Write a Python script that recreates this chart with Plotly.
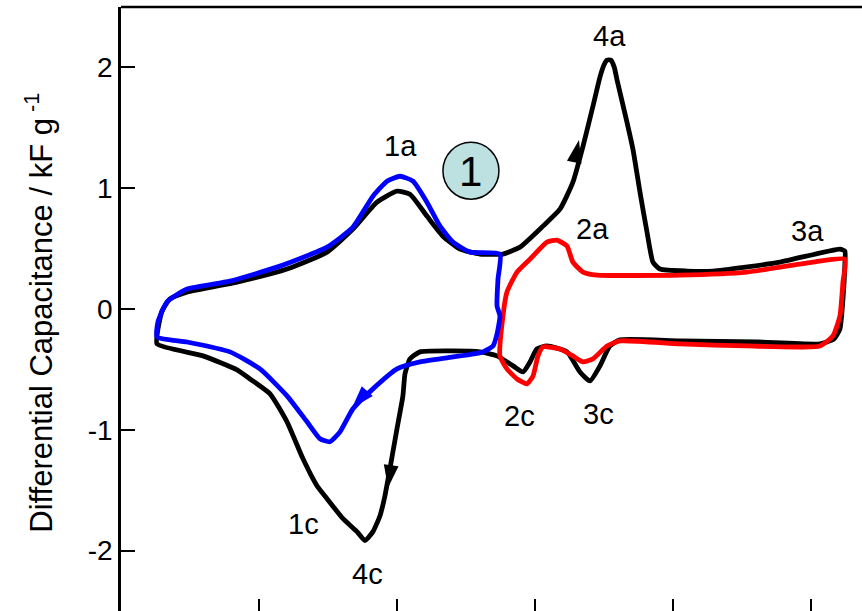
import plotly.graph_objects as go

# ---- data (potential in arbitrary units, capacitance in kF/g) ----
black_x = [0.261, 0.268, 0.297, 0.355, 0.478, 0.841, 1.203, 1.493, 1.681, 1.855, 2.000, 2.094,
           2.217, 2.333, 2.457, 2.601, 2.768, 2.891, 3.058, 3.181, 3.275, 3.348, 3.420, 3.471,
           3.500, 3.522, 3.550, 3.575, 3.594, 3.667, 3.710, 3.761, 3.812, 3.855, 3.906, 4.101, 4.290, 4.775,
           5.210, 5.246, 5.246, 5.232, 5.210, 5.167, 5.065, 4.609, 4.051, 3.616, 3.543, 3.471,
           3.399, 3.326, 3.232, 3.087, 3.014, 2.964, 2.913, 2.841, 2.725, 2.601, 2.406, 2.167,
           2.094, 2.058, 2.043, 2.000, 1.949, 1.913, 1.877, 1.826, 1.768, 1.710, 1.609, 1.493,
           1.420, 1.319, 1.203, 1.080, 0.935, 0.841, 0.594, 0.261]
black_y = [-0.289, -0.165, -0.017, 0.083, 0.140, 0.223, 0.331, 0.471, 0.661, 0.884, 0.975, 0.950,
           0.769, 0.603, 0.496, 0.455, 0.455, 0.512, 0.686, 0.826, 1.050, 1.347, 1.678, 1.920,
           2.020, 2.060, 2.060, 2.000, 1.900, 1.545, 1.322, 0.967, 0.636, 0.388, 0.331, 0.314, 0.314, 0.388,
           0.496, 0.479, 0.372, 0.083, -0.165, -0.248, -0.289, -0.273, -0.264, -0.256, -0.306, -0.471,
           -0.595, -0.521, -0.355, -0.306, -0.331, -0.438, -0.521, -0.471, -0.388, -0.355, -0.347, -0.355,
           -0.413, -0.537, -0.719, -0.992, -1.322, -1.545, -1.711, -1.843, -1.917, -1.843, -1.736, -1.570,
           -1.463, -1.240, -0.934, -0.702, -0.579, -0.504, -0.388, -0.289]

blue_x = [2.746, 2.732, 2.725, 2.746, 2.725, 2.696, 2.623, 2.406, 2.167, 2.000, 1.826, 1.681,
          1.587, 1.514, 1.442, 1.348, 1.203, 1.007, 0.790, 0.478, 0.261, 0.268, 0.333, 0.478,
          0.790, 1.152, 1.493, 1.681, 1.826, 1.928, 2.022, 2.116, 2.217, 2.312, 2.406, 2.529, 2.746]
blue_y = [0.455, 0.248, 0.025, -0.058, -0.207, -0.306, -0.355, -0.397, -0.438, -0.496, -0.661, -0.826,
          -1.017, -1.099, -1.074, -0.934, -0.719, -0.496, -0.355, -0.273, -0.231, -0.107, 0.058, 0.165,
          0.231, 0.355, 0.512, 0.678, 0.934, 1.058, 1.099, 1.058, 0.884, 0.686, 0.554, 0.471, 0.455]

red_x = [2.746, 2.768, 2.797, 2.870, 2.964, 3.087, 3.159, 3.232, 3.275, 3.348, 3.449, 4.051,
         4.536, 5.014, 5.246, 5.232, 5.210, 5.159, 5.065, 4.536, 4.051, 3.616, 3.522, 3.420,
         3.348, 3.275, 3.181, 3.058, 3.022, 2.986, 2.942, 2.870, 2.797, 2.746]
red_y = [-0.388, -0.058, 0.140, 0.306, 0.413, 0.554, 0.570, 0.521, 0.388, 0.306, 0.281, 0.281,
         0.306, 0.388, 0.413, 0.223, -0.058, -0.223, -0.306, -0.306, -0.289, -0.264, -0.306, -0.413,
         -0.438, -0.388, -0.331, -0.314, -0.388, -0.554, -0.620, -0.579, -0.496, -0.388]

peak_labels = ["1a", "2a", "3a", "4a", "1c", "2c", "3c", "4c"]
peak_label_x = [2.029, 3.420, 4.978, 3.543, 1.319, 2.891, 3.457, 1.783]
peak_label_y = [1.347, 0.661, 0.645, 2.256, -1.777, -0.884, -0.868, -2.190]

# direction arrows: tip point, heading (degrees clockwise from up), colour
arrow_tip_x = [1.935, 3.319, 1.674]
arrow_tip_y = [-1.480, 1.400, -0.820]
arrow_heading = [188, 12, 222]
arrow_colors = ["black", "black", "#0000ff"]

y_ticks = [-2, -1, 0, 1, 2]
x_ticks = [1, 2, 3, 4, 5]

FONT = "Liberation Sans, Arial, sans-serif"

fig = go.Figure()
fig.add_trace(go.Scatter(x=black_x, y=black_y, mode="lines",
                         line=dict(color="black", width=4.8, shape="spline", smoothing=0.5),
                         hoverinfo="skip"))
fig.add_trace(go.Scatter(x=red_x, y=red_y, mode="lines",
                         line=dict(color="#ff0000", width=4.8, shape="spline", smoothing=0.5),
                         hoverinfo="skip"))
fig.add_trace(go.Scatter(x=blue_x, y=blue_y, mode="lines",
                         line=dict(color="#0000ff", width=4.8, shape="spline", smoothing=0.5),
                         hoverinfo="skip"))

fig.add_trace(go.Scatter(x=arrow_tip_x, y=arrow_tip_y, mode="markers",
                         marker=dict(symbol="arrow", size=24, color=arrow_colors,
                                     angle=arrow_heading, line=dict(width=0)),
                         hoverinfo="skip"))

for t, lx, ly in zip(peak_labels, peak_label_x, peak_label_y):
    fig.add_annotation(x=lx, y=ly, text=t, showarrow=False,
                       font=dict(family=FONT, size=29, color="black"))

# circled "1"
fig.add_shape(type="circle", xref="x", yref="y", x0=2.333, x1=2.739, y0=0.909, y1=1.380,
              fillcolor="#bde0e1", line=dict(color="black", width=1.5))
fig.add_annotation(x=2.536, y=1.140, text="1", showarrow=False,
                   font=dict(family=FONT, size=42, color="black"))

# y-axis title
fig.add_annotation(xref="paper", yref="paper", x=-0.1110, y=0.5, yshift=-4,
                   text="Differential Capacitance / kF g<sup> -1</sup>", textangle=-90,
                   showarrow=False, xanchor="center", yanchor="middle",
                   font=dict(family=FONT, size=31, color="black"))

# top frame line
fig.add_shape(type="line", xref="paper", yref="paper", x0=0, x1=1, y0=1, y1=1,
              line=dict(color="black", width=2.5))

fig.update_layout(
    width=862, height=611,
    margin=dict(l=121, r=0, t=7, b=0, autoexpand=False),
    plot_bgcolor="white", paper_bgcolor="white",
    showlegend=False,
    font=dict(family=FONT, color="black"),
    xaxis=dict(range=[0, 5.37], showgrid=False, zeroline=False, showline=False,
               tickmode="array", tickvals=x_ticks, showticklabels=False, automargin=False,
               ticks="inside", ticklen=12, tickwidth=1.5, tickcolor="black"),
    yaxis=dict(range=[-2.5, 2.5], showgrid=False, zeroline=False, showline=True,
               linecolor="black", linewidth=2.5, automargin=False,
               tickmode="array", tickvals=y_ticks, ticktext=[str(v) for v in y_ticks],
               ticks="inside", ticklen=14, tickwidth=1.5, tickcolor="black",
               tickfont=dict(family=FONT, size=28, color="black")),
)

fig.write_html("out.html", config={"displayModeBar": False},
               post_script="document.body.style.margin='0';document.body.style.overflow='hidden';")
